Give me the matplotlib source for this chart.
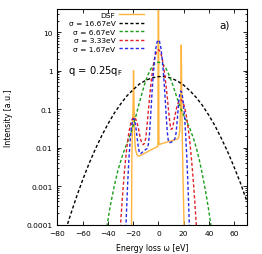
import matplotlib
matplotlib.use('agg')
import matplotlib.pyplot as plt
import matplotlib.ticker as tick

# DSF (undamped) and Gaussian-broadened spectra
dsf_w = [-21.6, -21.3, -21.0, -20.6, -20.1, -19.7, -19.35, -19.0, -18.5, -18.0,
         -17.0, -16.0, -15.0, -10.0, -5.0, -1.0, -0.4, -0.1,
         0.1, 0.4, 1.0, 5.0, 10.0, 15.0, 16.0, 16.8, 17.4, 17.8,
         18.1, 18.4, 18.7, 19.0, 19.6, 20.3, 20.8]
dsf_i = [1e-6, 1e-4, 0.006, 0.03, 0.1, 1.0, 0.15, 0.03, 0.012, 0.0085,
         0.0066, 0.006, 0.0061, 0.0074, 0.0091, 0.0105, 0.0108, 300,
         300, 0.012, 0.0122, 0.0134, 0.015, 0.0167, 0.018, 0.026, 0.07, 0.4,
         4.6, 0.5, 0.06, 0.012, 0.0012, 1e-4, 1e-6]

s1667_w = [-80, -75, -70, -65, -60, -55, -50, -45, -40, -35, -30, -25, -20, -15, -10, -5,
           0, 5, 10, 15, 20, 25, 30, 35, 40, 45, 50, 55, 60, 65, 70]
s1667_i = [1.4e-5, 5.0e-5, 1.65e-4, 5.1e-4, 1.45e-3, 3.8e-3, 9.1e-3, 0.020, 0.041, 0.078,
           0.135, 0.22, 0.32, 0.45, 0.56, 0.65, 0.70, 0.70, 0.64, 0.54, 0.42, 0.30,
           0.20, 0.123, 0.069, 0.036, 0.017, 7.6e-3, 3.1e-3, 1.2e-3, 4.1e-4]

s667_w = [-44, -42, -40, -38, -35, -32, -30, -28, -25, -22, -20, -18, -15, -12, -10, -8,
          -6, -4, -2, 0, 2, 4, 6, 8, 10, 12, 15, 18, 20, 22, 25, 28, 30, 32, 35, 38,
          40, 42, 44]
s667_i = [1.8e-5, 5.1e-5, 1.3e-4, 3.2e-4, 1.0e-3, 2.6e-3, 4.3e-3, 7.0e-3, 0.0127, 0.023,
          0.037, 0.063, 0.15, 0.34, 0.55, 0.81, 1.11, 1.39, 1.59, 1.66, 1.59, 1.39,
          1.14, 0.83, 0.57, 0.37, 0.185, 0.098, 0.07, 0.051, 0.031, 0.0165, 0.0099,
          0.0055, 0.0019, 5.6e-4, 2.2e-4, 7.7e-5, 2.5e-5]

s333_w = [-32, -31, -30, -29, -28, -27, -26, -25, -24, -23, -22, -21, -19.5,
          -18, -17, -16, -15, -14, -13, -12, -11, -10, -9, -8, -7, -6, -5, -4, -3, -2, -1,
          0, 1, 2, 3, 4, 5, 6, 7, 8, 9, 10, 11, 12, 13, 14, 15, 16, 17, 17.8,
          19, 20, 21, 22, 23, 24, 25, 26, 27, 28, 29, 30, 31, 32]
s333_i = [1e-5, 3e-5, 1e-4, 3e-4, 8.5e-4, 0.0022, 0.005, 0.010, 0.018, 0.029, 0.041, 0.053,
          0.062,
          0.056, 0.045, 0.034, 0.023, 0.016, 0.013, 0.012, 0.013, 0.018, 0.037, 0.088,
          0.2, 0.43, 0.81, 1.37, 2.06, 2.77, 3.3,
          3.5, 3.3, 2.77, 2.06, 1.37, 0.81, 0.42, 0.21, 0.094, 0.045, 0.030, 0.031,
          0.044, 0.065, 0.095, 0.125, 0.154, 0.173, 0.176,
          0.16, 0.135, 0.102, 0.071, 0.044, 0.025, 0.013, 0.0059, 0.0025, 9.4e-4,
          3.2e-4, 1.0e-4, 2.8e-5, 7e-6]

s167_w = [-27, -26.5, -25.5, -24.5, -23.5, -22.5, -21.5, -20.5, -19.7, -19,
          -18, -17, -16, -15, -14, -12, -10, -9, -8, -7, -6, -5, -4, -3, -2, -1,
          0, 1, 2, 3, 4, 5, 6, 7, 8, 9, 10, 11, 12, 13, 14, 15, 16, 17, 17.8,
          18.5, 19.5, 20.5, 21.5, 22.5, 23.5, 24.5, 25.5, 26]
s167_i = [1e-6, 1.4e-5, 1.4e-4, 9e-4, 0.0042, 0.0135, 0.031, 0.05, 0.057, 0.053,
          0.037, 0.020, 0.011, 0.0072, 0.007, 0.008, 0.009, 0.0095, 0.012, 0.024,
          0.08, 0.29, 0.85, 2.05, 3.82, 5.56,
          6.3, 5.56, 3.82, 2.05, 0.85, 0.29, 0.082, 0.026, 0.014, 0.0135, 0.0138,
          0.0143, 0.0150, 0.017, 0.024, 0.055, 0.15, 0.26, 0.296,
          0.27, 0.173, 0.078, 0.025, 0.0055, 8.7e-4, 9.6e-5, 7e-6, 1e-6]

x_ticks = [-80, -60, -40, -20, 0, 20, 40, 60]
y_ticks = [1e-4, 1e-3, 1e-2, 1e-1, 1, 10]

plt.rcParams['font.family'] = ['DejaVu Sans']

fig = plt.figure(figsize=(2.62, 2.55), dpi=100)
ax = fig.add_axes([0.219, 0.115, 0.723, 0.846])

dash = (0, (2.3, 1.6))
ax.plot(dsf_w, dsf_i, color='#ffb43c', lw=1.0, label='DSF')
ax.plot(s1667_w, s1667_i, color='black', lw=1.0, ls=dash, label='σ = 16.67eV')
ax.plot(s667_w, s667_i, color='#1a9e1a', lw=1.0, ls=dash, label='σ = 6.67eV')
ax.plot(s333_w, s333_i, color='#e0202a', lw=1.0, ls=dash, label='σ = 3.33eV')
ax.plot(s167_w, s167_i, color='#2828e6', lw=1.0, ls=dash, label='σ = 1.67eV')

ax.set_yscale('log')
ax.set_xlim(-80, 70)
ax.set_ylim(1e-4, 40)
ax.set_xticks(x_ticks)
ax.set_yticks(y_ticks)
ax.yaxis.set_major_formatter(tick.FuncFormatter(lambda v, p: '%g' % v))
ax.yaxis.set_minor_locator(tick.LogLocator(base=10, subs=range(2, 10)))
ax.yaxis.set_minor_formatter(tick.NullFormatter())
ax.tick_params(which='both', direction='in', top=True, right=True, labelsize=5.4,
               width=0.6)
ax.tick_params(which='major', length=3)
ax.tick_params(which='minor', length=1.5)
ax.tick_params(axis='x', pad=3.5)
ax.tick_params(axis='y', pad=3.5)
for sp in ax.spines.values():
    sp.set_linewidth(0.8)

ax.set_xlabel('Energy loss ω [eV]', fontsize=5.6)
ax.set_ylabel('Intensity [a.u.]', fontsize=5.6)
ax.xaxis.set_label_coords(0.5, -0.085)
ax.yaxis.set_label_coords(-0.235, 0.5)

ax.legend(loc='upper right', bbox_to_anchor=(0.465, 0.995), markerfirst=False,
          frameon=False, fontsize=5.4, handlelength=3.3, handletextpad=0.5,
          labelspacing=0.3, borderaxespad=0, borderpad=0.2)

ax.text(0.055, 0.715, 'q = 0.25q$_\\mathrm{F}$', transform=ax.transAxes,
        fontsize=7.2, va='center', ha='left')
ax.text(0.885, 0.927, 'a)', transform=ax.transAxes, fontsize=7.5,
        va='center', ha='center')

fig.savefig('out.png', dpi=100)
